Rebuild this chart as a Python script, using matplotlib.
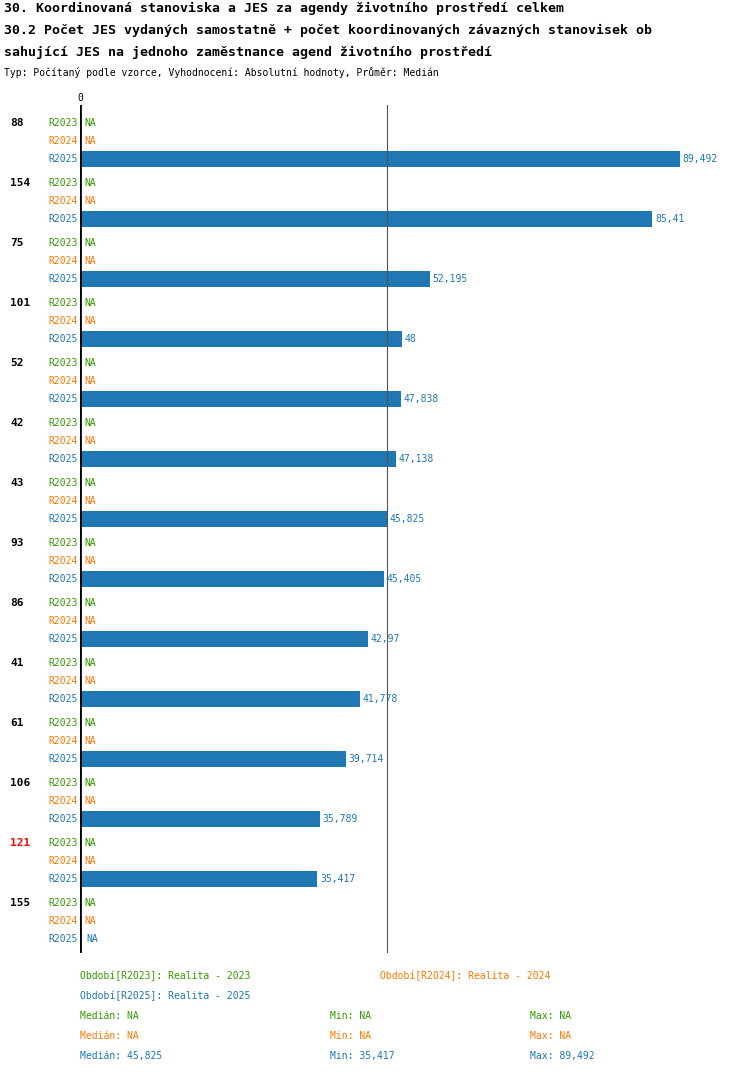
import matplotlib.pyplot as plt

groups = ["88", "154", "75", "101", "52", "42", "43", "93", "86", "41", "61", "106", "121", "155"]
r2025 = [89.492, 85.41, 52.195, 48, 47.838, 47.138, 45.825, 45.405, 42.97, 41.778, 39.714, 35.789, 35.417, None]
r2025_txt = ["89,492", "85,41", "52,195", "48", "47,838", "47,138", "45,825", "45,405", "42,97",
             "41,778", "39,714", "35,789", "35,417", "NA"]
highlight = "121"
median = 45.825

W, H = 750, 1074
green, orange, blue = "#339900", "#ff7700", "#1f77b4"
plt.rcParams['font.family'] = ['DejaVu Sans Mono']

fig = plt.figure(figsize=(W / 100, H / 100), dpi=100)
ax = fig.add_axes([80 / W, 1 - 953 / H, 650 / W, (953 - 105) / H])
ax.set_xlim(0, 97)
ax.set_ylim(953, 105)
ax.axis('off')
ax.axvline(0, color='black', lw=2)
ax.axvline(median, color='#555555', lw=0.8)
ax.text(0, 103, "0", ha='center', va='bottom', fontsize=7)

def fx(px):
    return px / W

for i, g in enumerate(groups):
    y = 123 + 60 * i
    fig.text(fx(10), 1 - y / H, g, fontsize=8, fontweight='bold', va='center',
             color='red' if g == highlight else 'black')
    for j, (lab, col) in enumerate([("R2023", green), ("R2024", orange), ("R2025", blue)]):
        yy = y + 18 * j
        fig.text(fx(78), 1 - yy / H, lab, fontsize=7, va='center', ha='right', color=col)
    fig.text(fx(84), 1 - y / H, "NA", fontsize=7, va='center', color=green)
    fig.text(fx(84), 1 - (y + 18) / H, "NA", fontsize=7, va='center', color=orange)
    v = r2025[i]
    if v is None:
        ax.text(1, y + 36, "NA", fontsize=7, va='center', color=blue)
    else:
        ax.barh(y + 36, v, height=16, color=blue, left=0)
        ax.text(v + 0.4, y + 36, r2025_txt[i], fontsize=7, va='center', color=blue)

fig.text(fx(4), 1 - 8 / H, "30. Koordinovaná stanoviska a JES za agendy životního prostředí celkem",
         fontsize=9.5, fontweight='bold', va='center')
fig.text(fx(4), 1 - 30 / H, "30.2 Počet JES vydaných samostatně + počet koordinovaných závazných stanovisek ob",
         fontsize=9.5, fontweight='bold', va='center')
fig.text(fx(4), 1 - 52 / H, "sahující JES na jednoho zaměstnance agend životního prostředí",
         fontsize=9.5, fontweight='bold', va='center')
fig.text(fx(4), 1 - 73 / H, "Typ: Počítaný podle vzorce, Vyhodnocení: Absolutní hodnoty, Průměr: Medián",
         fontsize=7, va='center')

fig.text(fx(80), 1 - 976 / H, "Období[R2023]: Realita - 2023", fontsize=7, va='center', color=green)
fig.text(fx(380), 1 - 976 / H, "Období[R2024]: Realita - 2024", fontsize=7, va='center', color=orange)
fig.text(fx(80), 1 - 996 / H, "Období[R2025]: Realita - 2025", fontsize=7, va='center', color=blue)
stats = [("NA", "NA", "NA", green), ("NA", "NA", "NA", orange), ("45,825", "35,417", "89,492", blue)]
for k, (md, mn, mx, col) in enumerate(stats):
    yy = 1 - (1016 + 20 * k) / H
    fig.text(fx(80), yy, "Medián: " + md, fontsize=7, va='center', color=col)
    fig.text(fx(330), yy, "Min: " + mn, fontsize=7, va='center', color=col)
    fig.text(fx(530), yy, "Max: " + mx, fontsize=7, va='center', color=col)

fig.savefig("out.png", dpi=100)
